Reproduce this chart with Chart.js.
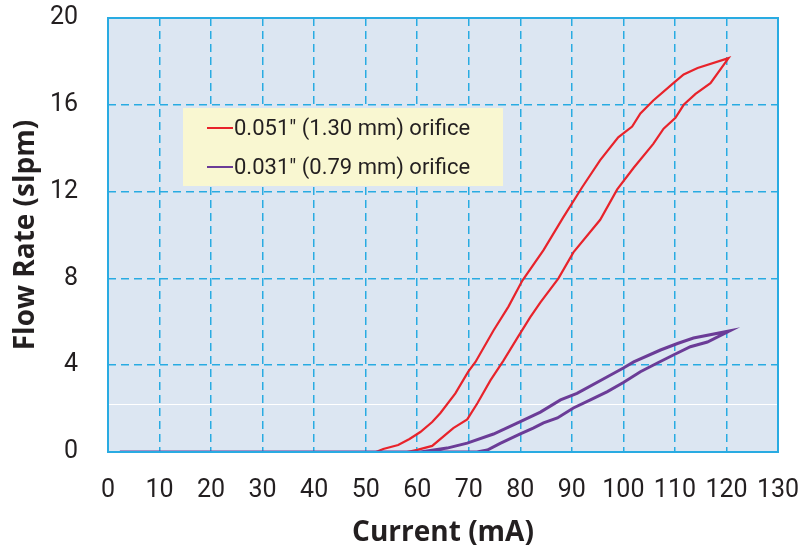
<!DOCTYPE html>
<html>
<head>
<meta charset="utf-8">
<script src="https://cdn.jsdelivr.net/npm/chart.js@4"></script>
<style>
  html, body { margin: 0; padding: 0; background: #fff; }
  #wrap { width: 803px; height: 554px; }
</style>
</head>
<body>
<div id="wrap"><canvas id="chart"></canvas></div>
<script>
const xTicks = [0, 10, 20, 30, 40, 50, 60, 70, 80, 90, 100, 110, 120, 130];
const yTicks = [0, 4, 8, 12, 16, 20];

const seriesNames = ['0.051" (1.30 mm) orifice', '0.031" (0.79 mm) orifice'];

// red loop: rising branch then falling branch
const redX = [2, 52, 53.4, 56.3, 58.5, 60.6, 62.9, 64.5, 67.4, 69.9, 71.3, 74.8, 77.7, 80.4, 84.5, 88.3, 92, 95.5, 99, 101.7, 103.3, 105.8, 109.7, 111.7, 114.4, 120.4,
  116.9, 114, 111.7, 110.1, 107.8, 105.8, 102, 98.8, 95.5, 90.3, 87.4, 83.9, 81.9, 79.4, 76.7, 74.2, 71.7, 69.7, 67, 62.9, 60, 58];
const redY = [0, 0, 0.14, 0.32, 0.6, 0.92, 1.38, 1.8, 2.7, 3.7, 4.15, 5.6, 6.7, 7.9, 9.3, 10.8, 12.2, 13.45, 14.5, 15, 15.6, 16.2, 17, 17.4, 17.7, 18.15,
  17, 16.5, 16, 15.4, 14.9, 14.2, 13.1, 12.1, 10.7, 9.2, 8.0, 6.9, 6.2, 5.25, 4.2, 3.3, 2.26, 1.5, 1.1, 0.28, 0.1, 0];

// purple loop
const purpleX = [2.3, 60.6, 65.8, 69.7, 74.8, 80, 83.9, 87.8, 91, 96.9, 100, 102, 107.2, 110.5, 113.6, 120.6,
  116.3, 113, 109.7, 106.6, 103.3, 100, 96.9, 93.6, 90.3, 87.2, 84.5, 82.5, 80, 76.1, 73.6, 71.6, 2.3];
const purpleY = [0, 0, 0.18, 0.41, 0.83, 1.4, 1.84, 2.4, 2.7, 3.47, 3.87, 4.15, 4.7, 5.0, 5.25, 5.58,
  5.07, 4.85, 4.47, 4.1, 3.7, 3.2, 2.78, 2.4, 2.03, 1.57, 1.34, 1.1, 0.83, 0.4, 0.09, 0, 0];

const colors = ['#e8232b', '#6b3c97'];
const gridBlue = '#29abe2';
const textColor = '#231f20';

const toPoints = (xs, ys) => xs.map((x, i) => ({ x, y: ys[i] }));

const plotBg = {
  id: 'plotBg',
  beforeDraw(chart) {
    const { ctx, chartArea: a } = chart;
    ctx.save();
    ctx.fillStyle = '#dce6f2';
    ctx.fillRect(a.left, a.top, a.right - a.left, a.bottom - a.top);
    ctx.restore();
  },
  beforeDatasetsDraw(chart) {
    // faint white line across the lower part of the plot
    const { ctx, chartArea: a } = chart;
    const y = Math.round(chart.scales.y.getPixelForValue(2.2)) + 0.5;
    ctx.save();
    ctx.strokeStyle = '#ffffff';
    ctx.lineWidth = 1;
    ctx.beginPath();
    ctx.moveTo(a.left, y);
    ctx.lineTo(a.right, y);
    ctx.stroke();
    ctx.restore();
  },
  afterDatasetsDraw(chart) {
    const { ctx, chartArea: a } = chart;
    ctx.save();
    ctx.strokeStyle = gridBlue;
    ctx.lineWidth = 2;
    ctx.strokeRect(a.left, a.top, a.right - a.left, a.bottom - a.top);
    // legend box
    const bx = 183, by = 108, bw = 320, bh = 78;
    ctx.fillStyle = '#f9f7d1';
    ctx.fillRect(bx, by, bw, bh);
    ctx.font = '22px Roboto';
    ctx.textBaseline = 'middle';
    seriesNames.forEach((name, i) => {
      const ly = by + 20 + i * 39;
      ctx.strokeStyle = colors[i];
      ctx.lineWidth = 2;
      ctx.beginPath();
      ctx.moveTo(bx + 24, ly);
      ctx.lineTo(bx + 50, ly);
      ctx.stroke();
      ctx.fillStyle = textColor;
      ctx.fillText(name, bx + 51, ly + 1);
    });
    ctx.restore();
  }
};

new Chart(document.getElementById('chart'), {
  type: 'scatter',
  data: {
    datasets: [
      { label: seriesNames[0], data: toPoints(redX, redY), showLine: true, borderColor: colors[0], borderWidth: 2.2, pointRadius: 0, tension: 0, order: 2 },
      { label: seriesNames[1], data: toPoints(purpleX, purpleY), showLine: true, borderColor: colors[1], borderWidth: 3, pointRadius: 0, tension: 0, order: 1 }
    ]
  },
  options: {
    responsive: true,
    maintainAspectRatio: false,
    animation: false,
    layout: { padding: { top: 18, right: 25, left: 0, bottom: 0 } },
    plugins: { legend: { display: false }, tooltip: { enabled: false } },
    scales: {
      x: {
        type: 'linear', min: 0, max: 130,
        afterBuildTicks: s => { s.ticks = xTicks.map(v => ({ value: v })); },
        afterFit: s => { s.height = 102; s.paddingLeft = 0; s.paddingRight = 0; },
        grid: { color: gridBlue, lineWidth: 1.5, drawTicks: false },
        border: { display: false, dash: [8, 5] },
        ticks: { color: textColor, font: { family: 'Roboto', size: 25 }, padding: 24, maxRotation: 0, autoSkip: false },
        title: { display: true, text: 'Current (mA)', color: textColor, font: { family: 'Open Sans', size: 28, weight: 'bold' }, padding: { top: 0 } }
      },
      y: {
        type: 'linear', min: 0, max: 20,
        afterBuildTicks: s => { s.ticks = yTicks.map(v => ({ value: v })); },
        afterFit: s => { s.width = 108; s.paddingTop = 0; s.paddingBottom = 0; },
        grid: { color: gridBlue, lineWidth: 1.5, drawTicks: false },
        border: { display: false, dash: [8, 5] },
        ticks: { color: textColor, font: { family: 'Roboto', size: 25 }, padding: 30 },
        title: { display: true, text: 'Flow Rate (slpm)', color: textColor, font: { family: 'Open Sans', size: 28, weight: 'bold' }, padding: { top: 9, bottom: 0 } }
      }
    }
  },
  plugins: [plotBg]
});
</script>
</body>
</html>
